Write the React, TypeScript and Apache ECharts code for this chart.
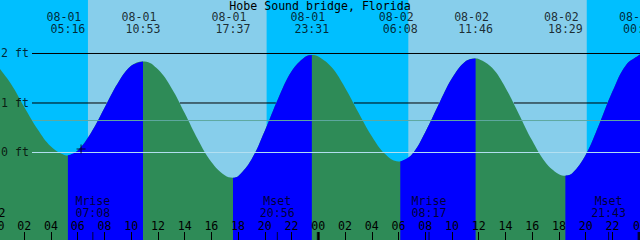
import React, { useEffect, useRef } from 'react';
import * as echarts from 'echarts';

const TITLE = 'Hobe Sound bridge, Florida';
const DATES = ['08-01', '08-02', '08-03'];

// tide height (ft) read at each whole hour from 00:00 on 08-01
const hourlyLevels = [
  1.75, 1.39, 0.92, 0.47, 0.12, -0.05, 0.04, 0.40, 0.90, 1.40, 1.75, 1.84,
  1.68, 1.31, 0.80, 0.26, -0.19, -0.46, -0.48, -0.14, 0.44, 1.09, 1.64, 1.93,
  1.94, 1.72, 1.31, 0.81, 0.33, -0.03, -0.18, -0.04, 0.41, 0.97, 1.50, 1.84,
  1.89, 1.71, 1.31, 0.78, 0.24, -0.20, -0.44, -0.42, -0.05, 0.56, 1.23, 1.76,
  1.97,
];

// high / low tides
const extremeDates = ['08-01', '08-01', '08-01', '08-01', '08-02', '08-02', '08-02', '08-03'];
const extremeTimes = ['05:16', '10:53', '17:37', '23:31', '06:08', '11:46', '18:29', '00:06'];
const extremeLevels = [-0.06, 1.84, -0.51, 1.97, -0.18, 1.9, -0.47, 1.98];

// sun
const sunDates = ['08-01', '08-02'];
const sunrises = ['06:46', '06:44'];
const sunsets = ['20:08', '20:05'];

// moon
const moonDates = ['08-01', '08-01', '08-02', '08-02'];
const moonEvents = ['Mrise', 'Mset', 'Mrise', 'Mset'];
const moonTimes = ['07:08', '20:56', '08:17', '21:43'];

// reference lines
const ftLines = [2, 1, 0];
const meanLevel = 0.646;

// current-time mark
const nowDate = '08-01';
const nowTime = '06:15';
const nowLevel = 0.07;

// ---- styling / layout ----
const FONT = '"DejaVu Sans Mono", monospace';
const FS = 11.6;
const NIGHT = '#00BFFF';
const DAY = '#87CEEB';
const EBB = '#2E8B57';
const FLOOD = '#0000FF';
const DATUM = '#B4E0F2';
const MEAN = '#5FA8A0';

const X_MAX = 48.066;
const Y_MAX = 3.0808;
const Y_MIN = -1.7677;
const LINE_START = 2.58;
const ftAtRow = (y: number) => (152.5 - y) / 49.5;

const toHour = (date: string, time: string) => {
  const [h, m] = time.split(':').map(Number);
  return DATES.indexOf(date) * 24 + h + m / 60;
};

const extremeHours = extremeTimes.map((t, i) => toHour(extremeDates[i], t));
const curve: number[][] = [
  ...hourlyLevels.map((v, h) => [h, v]),
  ...extremeHours.map((h, i) => [h, extremeLevels[i]]),
].sort((a, b) => a[0] - b[0]);

const floodSegments: number[][][] = [];
for (let i = 0; i < extremeHours.length - 1; i++) {
  if (extremeLevels[i + 1] > extremeLevels[i]) {
    const a = extremeHours[i];
    const b = extremeHours[i + 1];
    floodSegments.push(curve.filter((p) => p[0] >= a - 1e-9 && p[0] <= b + 1e-9));
  }
}

// parts of a level line that lie above the water (sky only)
const skyIntervals = (level: number, from: number, to: number): number[][] => {
  const levelAt = (h: number) => {
    for (let i = 0; i < curve.length - 1; i++) {
      const [h0, v0] = curve[i];
      const [h1, v1] = curve[i + 1];
      if (h >= h0 && h <= h1) return v0 + ((v1 - v0) * (h - h0)) / (h1 - h0);
    }
    return curve[curve.length - 1][1];
  };
  const cuts: number[] = [from];
  for (let i = 0; i < curve.length - 1; i++) {
    const [h0, v0] = curve[i];
    const [h1, v1] = curve[i + 1];
    if ((v0 - level) * (v1 - level) < 0) {
      const h = h0 + ((level - v0) * (h1 - h0)) / (v1 - v0);
      if (h > from && h < to) cuts.push(h);
    }
  }
  cuts.push(to);
  const out: number[][] = [];
  const gap = 0.04;
  for (let i = 0; i < cuts.length - 1; i++) {
    const a = cuts[i];
    const b = cuts[i + 1];
    if (levelAt((a + b) / 2) < level) {
      out.push([i === 0 ? a : a + gap, i === cuts.length - 2 ? b : b - gap]);
    }
  }
  return out;
};

const moonHours = moonTimes.map((t, i) => toHour(moonDates[i], t));
const dayBands = sunrises.map((r, i) => [
  { xAxis: toHour(sunDates[i], r) },
  { xAxis: toHour(sunDates[i], sunsets[i]) },
]);

const pad2 = (n: number) => String(n).padStart(2, '0');

export default function App() {
  const ref = useRef<HTMLDivElement>(null);

  useEffect(() => {
    if (!ref.current) return;
    const chart = echarts.init(ref.current, null, { renderer: 'svg' });

    const hidden = { color: 'rgba(0,0,0,0)' };
    const baseText = { fontFamily: FONT, fontSize: FS, color: '#000' };

    const series: any[] = [];

    // sky (day bands over night background)
    series.push({
      type: 'line',
      z: 1,
      silent: true,
      symbol: 'none',
      data: [],
      markArea: {
        silent: true,
        itemStyle: { color: DAY, opacity: 1, borderWidth: 0 },
        label: { show: false },
        data: dayBands,
      },
    });

    // ebb water (base)
    series.push({
      type: 'line',
      z: 10,
      silent: true,
      symbol: 'none',
      smooth: 0.4,
      data: curve,
      itemStyle: { color: EBB },
      lineStyle: { width: 0, color: EBB },
      areaStyle: { color: EBB, opacity: 1, origin: 'start' },
    });

    // flood water
    floodSegments.forEach((seg) => {
      series.push({
        type: 'line',
        z: 11,
        silent: true,
        symbol: 'none',
        smooth: 0.4,
        data: seg,
        itemStyle: { color: FLOOD },
        lineStyle: { width: 0, color: FLOOD },
        areaStyle: { color: FLOOD, opacity: 1, origin: 'start' },
      });
    });

    // black ft lines, only where they run through the sky
    ftLines
      .filter((ft) => ft !== 0)
      .forEach((ft) => {
        skyIntervals(ft, LINE_START, X_MAX).forEach(([a, b]) => {
          series.push({
            type: 'line',
            z: 12,
            silent: true,
            symbol: 'none',
            data: [
              [a, ft],
              [b, ft],
            ],
            lineStyle: { color: '#000', width: 1 },
          });
        });
      });

    // datum and mean lines over water
    series.push({
      type: 'line',
      z: 12,
      silent: true,
      symbol: 'none',
      data: [
        [LINE_START, 0],
        [X_MAX, 0],
      ],
      lineStyle: { color: DATUM, width: 1 },
    });
    series.push({
      type: 'line',
      z: 12,
      silent: true,
      symbol: 'none',
      data: [
        [LINE_START, meanLevel],
        [X_MAX, meanLevel],
      ],
      lineStyle: { color: MEAN, width: 1 },
    });

    // ft labels
    series.push({
      type: 'scatter',
      z: 13,
      silent: true,
      clip: false,
      symbolSize: 0,
      itemStyle: hidden,
      data: ftLines.map((ft) => [LINE_START, ft]),
      label: {
        show: true,
        position: 'left',
        distance: 3,
        ...baseText,
        formatter: (p: any) => `${ftLines[p.dataIndex]} ft`,
      },
    });

    // extreme date labels
    series.push({
      type: 'scatter',
      z: 13,
      silent: true,
      clip: false,
      symbolSize: 0,
      itemStyle: hidden,
      data: extremeHours.map((h) => [h, ftAtRow(17)]),
      label: {
        show: true,
        position: 'inside',
        offset: [-4, 0],
        ...baseText,
        formatter: (p: any) => extremeDates[p.dataIndex],
      },
    });
    // extreme time labels
    series.push({
      type: 'scatter',
      z: 13,
      silent: true,
      clip: false,
      symbolSize: 0,
      itemStyle: hidden,
      data: extremeHours.map((h) => [h, ftAtRow(29.5)]),
      label: {
        show: true,
        position: 'inside',
        ...baseText,
        formatter: (p: any) => extremeTimes[p.dataIndex],
      },
    });

    // moon labels
    series.push({
      type: 'scatter',
      z: 13,
      silent: true,
      clip: false,
      symbolSize: 0,
      itemStyle: hidden,
      data: moonHours.map((h) => [h, ftAtRow(207.5)]),
      label: {
        show: true,
        position: 'inside',
        ...baseText,
        lineHeight: 12,
        formatter: (p: any) => `${moonEvents[p.dataIndex]}\n${moonTimes[p.dataIndex]}`,
      },
    });

    // moon ticks
    series.push({
      type: 'scatter',
      z: 14,
      silent: true,
      symbol: 'rect',
      symbolSize: [1, 8],
      symbolOffset: [0, -4],
      itemStyle: { color: '#000' },
      data: moonHours.map((h) => [h, Y_MIN]),
    });

    // day ticks
    series.push({
      type: 'scatter',
      z: 14,
      silent: true,
      clip: false,
      symbol: 'rect',
      symbolSize: [3, 8],
      symbolOffset: [0, -4],
      itemStyle: { color: '#000' },
      data: DATES.map((_, i) => [i * 24, Y_MIN]),
    });

    // current time mark
    series.push({
      type: 'scatter',
      z: 14,
      silent: true,
      symbol: 'path://M0 4H9V5H0Z M4 0H5V9H4Z',
      symbolSize: [9, 9],
      itemStyle: { color: '#000' },
      data: [[toHour(nowDate, nowTime), nowLevel]],
    });

    chart.setOption({
      animation: false,
      backgroundColor: NIGHT,
      textStyle: { fontFamily: FONT, fontSize: FS, color: '#000' },
      title: {
        text: TITLE,
        left: 'center',
        top: 0,
        padding: [0, 0, 0, 0],
        textStyle: { fontFamily: FONT, fontSize: FS, fontWeight: 'normal', color: '#000' },
      },
      grid: {
        left: -2.5,
        right: 0,
        top: 0,
        bottom: 0,
        containLabel: false,
        outerBoundsMode: 'none',
      },
      xAxis: {
        type: 'value',
        min: 0,
        max: X_MAX,
        interval: 2,
        z: 20,
        axisLine: { show: false, onZero: false },
        splitLine: { show: false },
        axisTick: { show: true, inside: true, length: 8, lineStyle: { color: '#000', width: 1 } },
        axisLabel: {
          inside: true,
          margin: 8,
          color: '#000',
          fontFamily: FONT,
          fontSize: FS,
          showMinLabel: true,
          showMaxLabel: true,
          hideOverlap: false,
          formatter: (v: number) => pad2(Math.round(v) % 24),
        },
      },
      yAxis: {
        type: 'value',
        min: Y_MIN,
        max: Y_MAX,
        show: false,
        axisLine: { show: false, onZero: false },
        splitLine: { show: false },
      },
      graphic: [
        {
          type: 'text',
          x: -1.6,
          y: 212.5,
          z: 100,
          style: {
            text: '2',
            fill: '#000',
            font: `${FS}px ${FONT}`,
            verticalAlign: 'middle',
            align: 'left',
          },
        },
      ],
      series,
    });

    return () => chart.dispose();
  }, []);

  return (
    <div
      ref={ref}
      style={{ position: 'fixed', left: 0, top: 0, width: 640, height: 240 }}
    />
  );
}
